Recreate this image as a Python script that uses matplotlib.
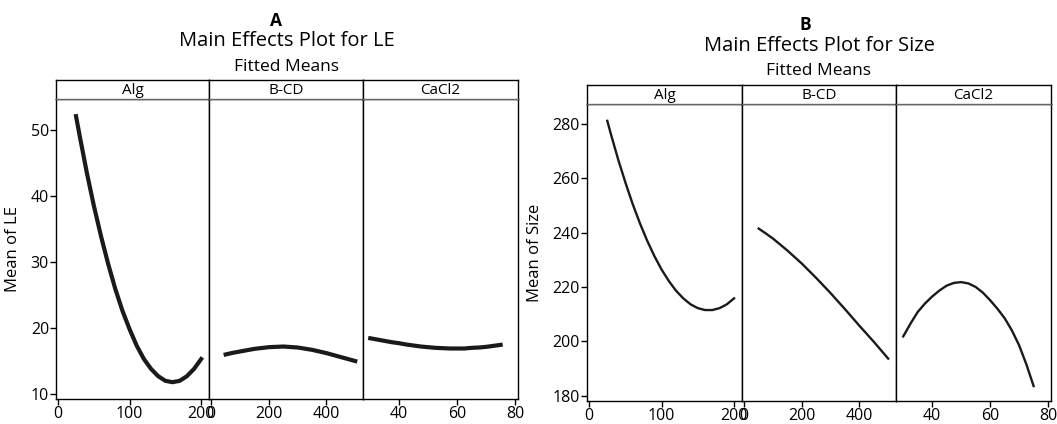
import matplotlib
matplotlib.use("Agg")
import matplotlib.pyplot as plt

W, H = 1057, 424
plt.rcParams['font.family'] = ['Open Sans', 'DejaVu Sans']

factors = ['Alg', 'B-CD', 'CaCl2']

# x levels
alg_x = [25, 30, 40, 50, 60, 70, 80, 90, 100, 110, 120, 130, 140, 150, 160, 170, 180, 190, 200]
bcd_x = [50, 75, 100, 150, 200, 250, 300, 350, 400, 450, 475, 500]
cacl2_x = [30, 32.5, 35, 37.5, 40, 42.5, 45, 47.5, 50, 52.5, 55, 57.5, 60, 62.5, 65, 67.5, 70, 72.5, 75]

# A: fitted means of LE
le_alg = [52.1, 49.2, 43.6, 38.5, 33.9, 29.7, 25.9, 22.6, 19.8, 17.3, 15.3, 13.8, 12.7,
          12.0, 11.8, 12.0, 12.7, 13.8, 15.3]
le_bcd = [16.0, 16.25, 16.45, 16.85, 17.1, 17.2, 17.05, 16.7, 16.2, 15.6, 15.3, 15.0]
le_cacl2 = [18.45, 18.25, 18.05, 17.85, 17.7, 17.5, 17.35, 17.2, 17.1, 17.0, 16.95, 16.9,
            16.9, 16.9, 17.0, 17.05, 17.15, 17.3, 17.45]

# B: fitted means of Size
size_alg = [281.2, 276.3, 267.0, 258.5, 250.6, 243.5, 237.1, 231.4, 226.4, 222.2, 218.6,
            215.8, 213.6, 212.2, 211.5, 211.5, 212.2, 213.6, 215.8]
size_bcd = [241.5, 239.7, 237.8, 233.4, 228.6, 223.3, 217.7, 211.8, 205.7, 199.8, 196.7, 193.6]
size_cacl2 = [201.8, 206.5, 210.8, 213.9, 216.5, 218.7, 220.5, 221.5, 221.8, 221.3, 220.0,
              217.9, 215.1, 212.0, 208.5, 204.0, 198.5, 191.5, 183.5]

xlims = [(-3, 211), (-8, 527), (27.5, 81)]
xticks = [[0, 100, 200], [0, 200, 400], [40, 60, 80]]

fig = plt.figure(figsize=(W / 100, H / 100), dpi=100)


def box(l, t, r, b):
    return [l / W, 1 - b / H, (r - l) / W, (b - t) / H]


def panel(edges, strip_top, top, bottom, xs, ys, ylim, yticks, ylabel,
          letter, title, letter_x, text_y, lw):
    for i in range(3):
        ax = fig.add_axes(box(edges[i], top, edges[i + 1], bottom))
        ax.plot(xs[i], ys[i], color='#1a1a1a', lw=lw, solid_joinstyle='round')
        ax.set_xlim(*xlims[i])
        ax.set_ylim(*ylim)
        ax.set_xticks(xticks[i])
        ax.tick_params(axis='x', length=4, width=1, labelsize=11.5, pad=1)
        if i == 0:
            ax.set_yticks(yticks)
            ax.tick_params(axis='y', length=4, width=1, labelsize=11.5, pad=1)
            ax.set_ylabel(ylabel, fontsize=12, labelpad=7)
        else:
            ax.set_yticks([])
        for s in ax.spines.values():
            s.set_linewidth(1)
        # strip header
        st = fig.add_axes(box(edges[i], strip_top, edges[i + 1], top))
        st.set_xticks([])
        st.set_yticks([])
        for s in st.spines.values():
            s.set_linewidth(1)
        st.spines['bottom'].set_color('#666666')
        st.text(0.5, 0.45, factors[i], ha='center', va='center', fontsize=11,
                transform=st.transAxes)
    cx = (edges[0] + edges[-1]) / 2
    fig.text(letter_x / W, 1 - text_y[0] / H, letter, ha='center', va='center',
             fontsize=12.5, fontweight='bold')
    fig.text(cx / W, 1 - text_y[1] / H, title, ha='center', va='center', fontsize=14.5)
    fig.text(cx / W, 1 - text_y[2] / H, 'Fitted Means', ha='center', va='center',
             fontsize=12.5)


panel([56, 209, 363, 518], 80, 99, 399, [alg_x, bcd_x, cacl2_x],
      [le_alg, le_bcd, le_cacl2], (9.25, 54.7), [10, 20, 30, 40, 50],
      'Mean of LE', 'A', 'Main Effects Plot for LE', 276, (21, 41, 67), 3.0)

panel([587, 742, 896, 1051], 85, 104, 401, [alg_x, bcd_x, cacl2_x],
      [size_alg, size_bcd, size_cacl2], (178.0, 287.4), [180, 200, 220, 240, 260, 280],
      'Mean of Size', 'B', 'Main Effects Plot for Size', 805, (25, 46, 71), 1.7)

fig.savefig('out.png', dpi=100)
